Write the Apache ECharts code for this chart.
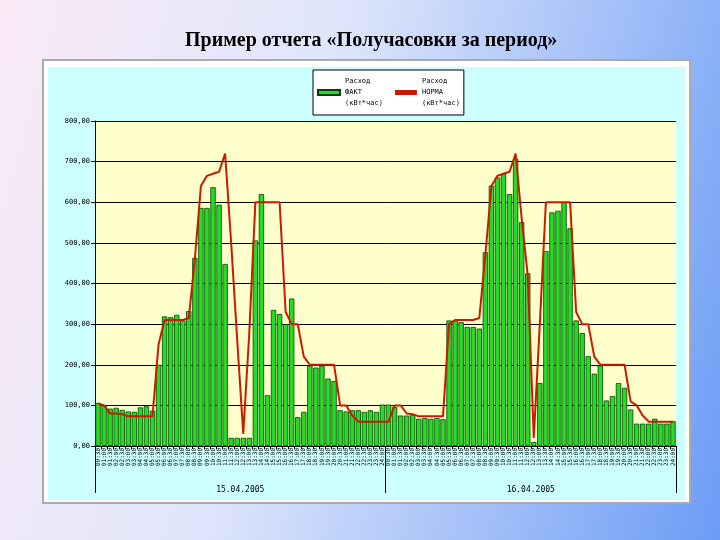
<!DOCTYPE html>
<html><head><meta charset="utf-8">
<script src="https://cdn.jsdelivr.net/npm/echarts@6/dist/echarts.min.js"></script>
<style>
html,body{margin:0;padding:0;width:720px;height:540px;overflow:hidden;
background:linear-gradient(105deg,#fbeaf6 0%,#dfe6fb 40%,#9dbcf8 75%,#6b9cf6 100%);}
#c{width:720px;height:540px;}
</style></head><body><div id="c"></div>
<script>
var dates = ['15.04.2005','16.04.2005'];
var factDay1 = [106,100,92,94,89,85,84,95,98,87, 200,319,317,323,309,332, 463,586,586,637,594,448, 20,20,20,20, 506,620,125,335,325,300,363, 71,84,198,193,198,166,160, 88,85,88,88,84,88,84,102];
var factDay2 = [102,96,75,75,77,67,69,67,69,66, 309,309,305,293,293,289, 477,641,661,670,620,707,551,425, 10, 155,480,575,579,600,536, 309,278,221,178,198, 112,123,155,143,90, 55,55,55,67,55,55,61];
var normDay1 = [105,100,80,80,78,73,73,73,73,73, 250,310,310,310,310,315, 460,640,665,670,675,720, 500,260,30, 280,600,600,600,600,600, 330,300,300,220,200,200,200,200,200, 100,100,75,60,60,60,60,60];
var normDay2 = [60,100,100,80,78,73,73,73,73,73, 300,310,310,310,310,315, 470,640,665,670,675,720, 560,420,20, 300,600,600,600,600,600, 330,300,300,220,200,200,200,200,200, 110,100,75,60,60,60,60,60];
var yTicks = [0,100,200,300,400,500,600,700,800];

var times = [];
for (var d = 0; d < 2; d++) for (var h = 1; h <= 48; h++) {
  var m = h * 30, hh = Math.floor(m / 60), mm = m % 60;
  times.push((hh < 10 ? '0' : '') + hh + ':' + (mm ? '30' : '00'));
}
var fact = factDay1.concat(factDay2);
var norm = normDay1.concat(normDay2);

var chart = echarts.init(document.getElementById('c'));
chart.setOption({
  animation:false,
  title:{text:'Пример отчета «Получасовки за период»',left:180,top:26,
    textStyle:{fontFamily:'Liberation Serif',fontSize:20,fontWeight:'bold',color:'#000'}},
  graphic:[
    {type:'rect',z:-10,shape:{x:43,y:60,width:647,height:443},style:{fill:'#fff',stroke:'#aaa',lineWidth:2}},
    {type:'rect',z:-9,shape:{x:48,y:67,width:637,height:433},style:{fill:'#ccffff'}}
  ],
  legend:{left:313,top:70,orient:'horizontal',itemGap:12,itemWidth:22,itemHeight:5,padding:[3,4],
    backgroundColor:'#fff',borderColor:'#000',borderWidth:1,borderRadius:0,
    textStyle:{fontFamily:'DejaVu Sans Mono',fontSize:7,lineHeight:11,color:'#000',align:'left',verticalAlign:'top',padding:[6,0,0,0]},
    data:[{name:'Расход\nФАКТ\n(кВт*час)',icon:'rect'},{name:'Расход\nНОРМА\n(кВт*час)',icon:'rect'}]},
  grid:{left:95,right:44,top:121,bottom:94,show:true,backgroundColor:'#ffffcc',borderWidth:0},
  xAxis:[
    {type:'category',data:times,boundaryGap:true,
     axisLine:{lineStyle:{color:'#000'}},axisTick:{show:true,interval:0,length:3,lineStyle:{color:'#000'}},
     axisLabel:{interval:0,rotate:90,fontSize:6,fontFamily:'DejaVu Sans Mono',color:'#000',margin:2}},
    {type:'category',data:dates,position:'bottom',boundaryGap:true,
     axisLine:{show:false},axisTick:{show:true,length:47,lineStyle:{color:'#000'}},
     axisLabel:{margin:40,fontSize:8,fontFamily:'DejaVu Sans Mono',color:'#000'}}
  ],
  yAxis:{type:'value',min:yTicks[0],max:yTicks[yTicks.length-1],interval:100,
    axisLine:{show:true,lineStyle:{color:'#000'}},axisTick:{show:true,length:4,lineStyle:{color:'#000'}},
    splitLine:{lineStyle:{color:'#000',width:1}},
    axisLabel:{fontSize:7,fontFamily:'DejaVu Sans Mono',color:'#000',margin:5,
      formatter:function(v){return v.toFixed(2).replace('.',',');}}},
  series:[
    {name:'Расход\nФАКТ\n(кВт*час)',type:'bar',data:fact,barWidth:'88%',
     itemStyle:{color:'#22dd22',borderColor:'#0b3d0b',borderWidth:0.8}},
    {name:'Расход\nНОРМА\n(кВт*час)',type:'line',data:norm,showSymbol:false,symbol:'none',
     lineStyle:{color:'#cc1a00',width:2},itemStyle:{color:'#cc1a00'}}
  ]
});
</script></body></html>
